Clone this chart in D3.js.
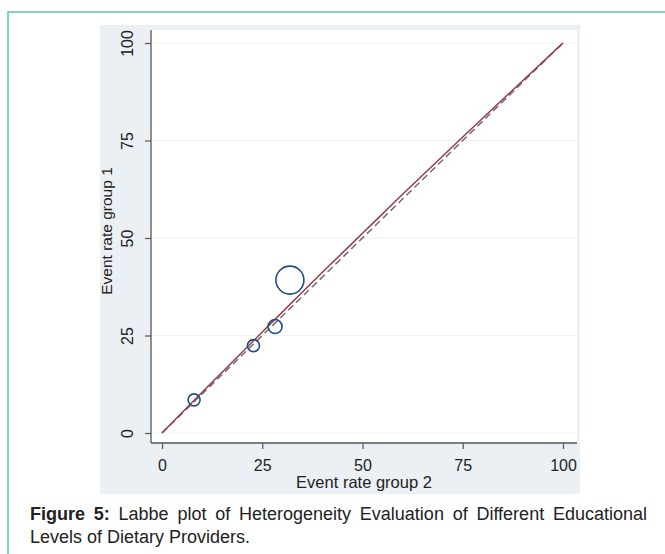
<!DOCTYPE html>
<html>
<head>
<meta charset="utf-8">
<script src="https://cdn.jsdelivr.net/npm/d3@7/dist/d3.min.js"></script>
<style>
  html, body { margin: 0; padding: 0; background: #fff; }
  svg { display: block; }
</style>
</head>
<body>
<svg id="chart" width="665" height="554"></svg>
<script>
// ---- data ----
const studyGroup2 = [8.0, 22.8, 28.2, 31.9];     // event rate group 2 (x)
const studyGroup1 = [8.5, 22.4, 27.3, 39.2];     // event rate group 1 (y)
const studyWeight = [1.0, 1.0, 1.35, 5.4];       // relative study weights (circle area)
const xTicks = [0, 25, 50, 75, 100];
const yTicks = [0, 25, 50, 75, 100];
// line of equality (dashed)
const equalityX = [0, 100];
const equalityY = [0, 100];
// pooled-effect line (solid, slightly bowed above equality)
const effectX = [0, 10, 25, 40, 50, 60, 75, 90, 100];
const effectY = [0, 10.45, 25.9, 41.2, 51.2, 61.2, 75.9, 90.4, 100];
const xTitle = "Event rate group 2";
const yTitle = "Event rate group 1";
const captionBold = "Figure 5:";
const captionLine1 = "Labbe plot of Heterogeneity Evaluation of Different Educational";
const captionLine2 = "Levels of Dietary Providers.";

const svg = d3.select("#chart");
const font = "'Liberation Sans', Arial, sans-serif";

// outer teal frame
svg.append("rect").attr("x", 8).attr("y", 12).attr("width", 700).attr("height", 600)
  .attr("fill", "none").attr("stroke", "#5cc4b4").attr("stroke-width", 1.5);

// graph region
svg.append("rect").attr("x", 100).attr("y", 25).attr("width", 480).attr("height", 469)
  .attr("fill", "#eaf0f4");
// plot region
const plot = {left: 151, right: 577, top: 30, bottom: 443};
svg.append("rect").attr("x", plot.left).attr("y", plot.top)
  .attr("width", plot.right - plot.left).attr("height", plot.bottom - plot.top)
  .attr("fill", "#ffffff");

const x = d3.scaleLinear().domain([0, 100]).range([162, 563]);
const y = d3.scaleLinear().domain([0, 100]).range([433, 43]);
const r = d3.scaleSqrt().domain([0, 5.4]).range([0, 14]);

// gridlines
svg.append("g").selectAll("line").data(yTicks).join("line")
  .attr("x1", plot.left).attr("x2", plot.right)
  .attr("y1", d => y(d)).attr("y2", d => y(d))
  .attr("stroke", "#eef1f4").attr("stroke-width", 1.2);

// axes
const yAxis = d3.axisLeft(y).tickValues(yTicks).tickSize(6).tickPadding(4);
const gy = svg.append("g").attr("transform", `translate(${plot.left},0)`).call(yAxis);
gy.select(".domain").remove();
gy.append("line").attr("x1", 0).attr("x2", 0).attr("y1", plot.top).attr("y2", plot.bottom)
  .attr("stroke", "#555").attr("stroke-width", 1.3);
gy.selectAll(".tick line").attr("stroke", "#555").attr("stroke-width", 1.2);
gy.selectAll(".tick text")
  .attr("font-family", font).attr("font-size", 16).attr("fill", "#222")
  .attr("x", 0).attr("dy", 0)
  .attr("text-anchor", "middle")
  .attr("transform", "translate(-18,0) rotate(-90)");

const xAxis = d3.axisBottom(x).tickValues(xTicks).tickSize(6).tickPadding(4);
const gx = svg.append("g").attr("transform", `translate(0,${plot.bottom})`).call(xAxis);
gx.select(".domain").remove();
gx.append("line").attr("x1", plot.left).attr("x2", plot.right).attr("y1", 0).attr("y2", 0)
  .attr("stroke", "#555").attr("stroke-width", 1.3);
gx.selectAll(".tick line").attr("stroke", "#555").attr("stroke-width", 1.2);
gx.selectAll(".tick text")
  .attr("font-family", font).attr("font-size", 16).attr("fill", "#222")
  .attr("y", 28).attr("dy", 0);

// axis titles
svg.append("text").attr("x", (plot.left + plot.right) / 2).attr("y", 488)
  .attr("text-anchor", "middle").attr("font-family", font).attr("font-size", 16.5)
  .attr("fill", "#222").text(xTitle);
svg.append("text").attr("transform", `translate(112,231) rotate(-90)`)
  .attr("text-anchor", "middle").attr("font-family", font).attr("font-size", 15.5)
  .attr("fill", "#222").text(yTitle);

// reference lines
const line = d3.line().x(d => x(d[0])).y(d => y(d[1]));
const smooth = d3.line().x(d => x(d[0])).y(d => y(d[1])).curve(d3.curveMonotoneX);
svg.append("path").datum(equalityX.map((v, i) => [v, equalityY[i]])).attr("d", line)
  .attr("fill", "none").attr("stroke", "#69706a").attr("stroke-width", 1.5)
  .attr("stroke-dasharray", "7,4");
svg.append("path").datum(effectX.map((v, i) => [v, effectY[i]])).attr("d", smooth)
  .attr("fill", "none").attr("stroke", "#9a3a4e").attr("stroke-width", 1.5);

// study circles
const pts = studyGroup2.map((v, i) => ({x: v, y: studyGroup1[i], w: studyWeight[i]}));
svg.append("g").selectAll("circle").data(pts).join("circle")
  .attr("cx", d => x(d.x)).attr("cy", d => y(d.y)).attr("r", d => r(d.w))
  .attr("fill", "none").attr("stroke", "#1f4e85").attr("stroke-width", 1.6);

// caption (line 1 justified)
const cap = svg.append("g").attr("font-family", font).attr("font-size", 18).attr("fill", "#222");
const words1 = captionBold.split(" ").concat(captionLine1.split(" "));
const left = 30, right = 647;
const tmp = words1.map((w, i) => cap.append("text").attr("y", 520)
  .attr("font-weight", i < 2 ? "bold" : "normal").text(w));
const widths = tmp.map(t => t.node().getComputedTextLength());
const total = d3.sum(widths);
const gap = (right - left - total) / (words1.length - 1);
let cx = left;
tmp.forEach((t, i) => { t.attr("x", cx); cx += widths[i] + gap; });
cap.append("text").attr("x", left).attr("y", 543).text(captionLine2);
</script>
</body>
</html>
